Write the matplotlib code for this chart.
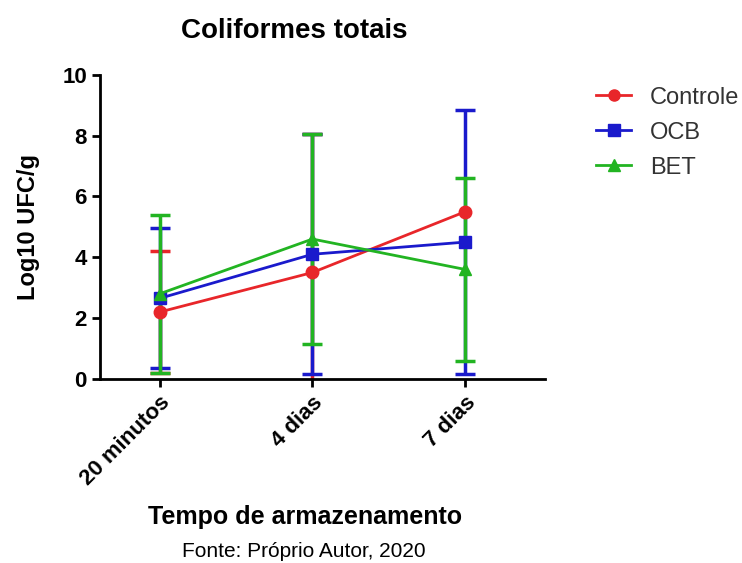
import numpy as np
import matplotlib.pyplot as plt
from matplotlib.lines import Line2D

plt.rcParams['font.family'] = ['Liberation Sans', 'DejaVu Sans']

# categories and series (means and error bars, Log10 UFC/g)
tempos = ['20 minutos', '4 dias', '7 dias']
controle = [2.2, 3.5, 5.5]
controle_err = [2.0, 4.55, np.nan]  # 7 dias bar hidden in the figure
ocb = [2.65, 4.1, 4.5]
ocb_err = [2.3, 3.95, 4.35]
bet = [2.8, 4.6, 3.6]
bet_err = [2.6, 3.45, 3.0]

x = np.arange(len(tempos))

fig = plt.figure(figsize=(7.42, 5.63), dpi=100)
ax = fig.add_axes([0.135, 0.327, 0.599, 0.540])

series = [
    ('Controle', controle, controle_err, '#e8262a', 'o'),
    ('OCB', ocb, ocb_err, '#1a1acc', 's'),
    ('BET', bet, bet_err, '#22b422', '^'),
]
handles = []
for nome, vals, err, cor, mk in series:
    ax.errorbar(x, vals, yerr=err, color=cor, marker=mk, markersize=9,
                linewidth=2, elinewidth=2.5, capsize=7, capthick=2.5)
    handles.append(Line2D([], [], color=cor, marker=mk, markersize=8,
                          linewidth=2, label=nome))

ax.set_xlim(-0.39, 2.52)
ax.set_ylim(0, 10)
ax.set_yticks([0, 2, 4, 6, 8, 10])
ax.set_xticks(x)
ax.set_xticklabels(tempos, rotation=45, ha='right', rotation_mode='anchor')
for lab in ax.get_xticklabels() + ax.get_yticklabels():
    lab.set_fontweight('bold')
    lab.set_fontsize(16)
ax.tick_params(axis='both', width=2, length=6, direction='out')
ax.spines['top'].set_visible(False)
ax.spines['right'].set_visible(False)
ax.spines['left'].set_linewidth(2)
ax.spines['bottom'].set_linewidth(2)

ax.set_ylabel('Log10 UFC/g', fontsize=17, fontweight='bold', labelpad=16)
fig.text(0.397, 0.945, 'Coliformes totais', fontsize=20, fontweight='bold',
         ha='center', va='center')
fig.text(0.411, 0.082, 'Tempo de armazenamento', fontsize=18,
         fontweight='bold', ha='center', va='center')
fig.text(0.410, 0.021, 'Fonte: Próprio Autor, 2020', fontsize=15,
         ha='center', va='center')

leg = fig.legend(handles=handles, loc='upper left',
                 bbox_to_anchor=(0.803, 0.846), frameon=False, fontsize=17,
                 handlelength=1.5, labelspacing=0.55, handletextpad=0.8,
                 borderaxespad=0, borderpad=0)
for t in leg.get_texts():
    t.set_color('#333333')

fig.savefig('out.png', dpi=100)
